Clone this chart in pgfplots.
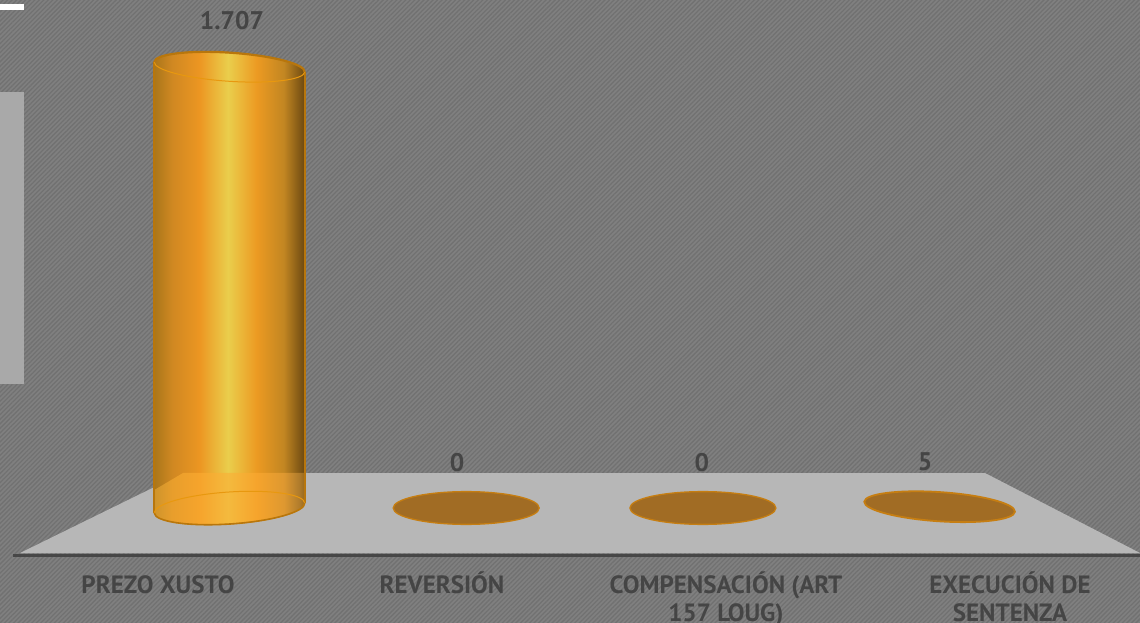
\documentclass[border=0pt]{standalone}
\usepackage{fontspec}
\setmainfont{PT Sans}
\usepackage{pgfplots}
\pgfplotsset{compat=1.18}
\usetikzlibrary{patterns.meta}

\definecolor{bgbase}{HTML}{808080}
\definecolor{bghatch}{HTML}{717171}
\definecolor{floorgray}{HTML}{B7B7B7}
\definecolor{baseink}{HTML}{474747}
\definecolor{sidegray}{HTML}{A9A9A9}
\definecolor{labelgray}{HTML}{454545}
\definecolor{rimdark}{HTML}{B8760C}
\definecolor{rimsoft}{HTML}{E8980F}
\definecolor{diskfill}{HTML}{A16C24}
\definecolor{diskrim}{HTML}{C67E12}

% Cylinder wall: the stops cover the shading's central band, which is the path's width
\pgfdeclarehorizontalshading{cylwall}{100bp}{
  color(0bp)=(rgb,255:red,170;green,118;blue,26);
  color(25bp)=(rgb,255:red,170;green,118;blue,26);
  color(31bp)=(rgb,255:red,208;green,136;blue,34);
  color(40bp)=(rgb,255:red,236;green,150;blue,34);
  color(49.5bp)=(rgb,255:red,234;green,206;blue,76);
  color(59bp)=(rgb,255:red,236;green,154;blue,34);
  color(68bp)=(rgb,255:red,194;green,134;blue,34);
  color(73bp)=(rgb,255:red,132;green,90;blue,22);
  color(75bp)=(rgb,255:red,106;green,72;blue,16);
  color(100bp)=(rgb,255:red,106;green,72;blue,16)}
% The part of the wall that stands in front of the floor
\pgfdeclarehorizontalshading{cyllow}{100bp}{
  color(0bp)=(rgb,255:red,206;green,148;blue,44);
  color(25bp)=(rgb,255:red,206;green,148;blue,44);
  color(31bp)=(rgb,255:red,232;green,158;blue,44);
  color(40bp)=(rgb,255:red,246;green,164;blue,44);
  color(49.5bp)=(rgb,255:red,244;green,186;blue,62);
  color(59bp)=(rgb,255:red,246;green,164;blue,44);
  color(68bp)=(rgb,255:red,222;green,152;blue,48);
  color(73bp)=(rgb,255:red,176;green,124;blue,44);
  color(75bp)=(rgb,255:red,150;green,104;blue,30);
  color(100bp)=(rgb,255:red,150;green,104;blue,30)}

\pgfdeclareplotmark{cyltop}{%
  \pgftransformrotate{-3.8}%
  \pgfpathellipse{\pgfpointorigin}{\pgfqpoint{75.4pt}{0pt}}{\pgfqpoint{0pt}{14.3pt}}%
  \pgfshadepath{cylwall}{0}%
  \pgfsetlinewidth{1pt}\pgfsetstrokecolor{rimsoft}%
  \pgfpathellipse{\pgfpointorigin}{\pgfqpoint{75.4pt}{0pt}}{\pgfqpoint{0pt}{14.3pt}}%
  \pgfusepathqstroke
  \pgfsetlinewidth{2.2pt}\pgfsetstrokecolor{rimdark}%
  \pgfpathmoveto{\pgfqpoint{-75.4pt}{0pt}}%
  \pgfpatharc{180}{0}{75.4pt and 14.3pt}%
  \pgfusepathqstroke}
\pgfdeclareplotmark{cylbase}{%
  \pgftransformrotate{3.8}%
  \pgfpathellipse{\pgfpointorigin}{\pgfqpoint{75.4pt}{0pt}}{\pgfqpoint{0pt}{16pt}}%
  \pgfshadepath{cyllow}{0}%
  \pgfsetlinewidth{1pt}\pgfsetstrokecolor{rimsoft}%
  \pgfpathellipse{\pgfpointorigin}{\pgfqpoint{75.4pt}{0pt}}{\pgfqpoint{0pt}{16pt}}%
  \pgfusepathqstroke
  \pgfsetlinewidth{1.6pt}\pgfsetstrokecolor{rimdark}%
  \pgfpathmoveto{\pgfqpoint{-75.4pt}{0pt}}%
  \pgfpatharc{180}{360}{75.4pt and 16pt}%
  \pgfusepathqstroke}
\pgfdeclareplotmark{flatdisk}{%
  \pgfsetlinewidth{1.3pt}\pgfsetfillcolor{diskfill}\pgfsetstrokecolor{diskrim}%
  \pgfpathellipse{\pgfpointorigin}{\pgfqpoint{73pt}{0pt}}{\pgfqpoint{0pt}{16.4pt}}%
  \pgfusepathqfillstroke}
\pgfdeclareplotmark{tiltdisk}{%
  \pgftransformrotate{-3.8}%
  \pgfsetlinewidth{1.8pt}\pgfsetfillcolor{diskfill}\pgfsetstrokecolor{diskrim}%
  \pgfpathellipse{\pgfpointorigin}{\pgfqpoint{75.5pt}{0pt}}{\pgfqpoint{0pt}{14.6pt}}%
  \pgfusepathqfillstroke}

\pgfplotsset{
  fullframe/.style={width=1140pt,height=623pt,scale only axis,hide axis,at={(0,0)},anchor=south west},
  pixelframe/.style={fullframe,xmin=0,xmax=1140,ymin=0,ymax=623,y dir=reverse},
}
\tikzset{
  catlabel/.style={font=\fontsize{25}{25}\selectfont\bfseries,text=labelgray,inner sep=0pt,anchor=base},
  vallabel/.style={font=\fontsize{25.5}{25.5}\selectfont\bfseries,text=labelgray,inner sep=0pt,anchor=base},
}

\begin{document}
\begin{tikzpicture}
\path[use as bounding box,clip] (0,0) rectangle (1140pt,623pt);

% Backdrop, floor and the two marks at the left edge
\begin{axis}[pixelframe]
  \addplot[draw=none,fill=bgbase] coordinates {(0,0) (1140,0) (1140,623) (0,623)} -- cycle;
  \addplot[draw=none,pattern={Lines[angle=45,distance=3.2pt,line width=1.3pt]},pattern color=bghatch]
    coordinates {(0,0) (1140,0) (1140,623) (0,623)} -- cycle;
  \addplot[draw=none,fill=floorgray] coordinates {(183,473) (985,473) (1140,553) (20,553)} -- cycle;
  \addplot[baseink,line width=3pt] coordinates {(13,555) (1140,555)};
  \addplot[draw=none,fill=white] coordinates {(0,4.5) (24,4.5) (24,10) (0,10)} -- cycle;
  \addplot[draw=none,fill=sidegray] coordinates {(0,92) (24,92) (24,384) (0,384)} -- cycle;
  \node[catlabel] at (axis cs:158,593) {PREZO XUSTO};
  \node[catlabel] at (axis cs:442,593) {REVERSIÓN};
  \node[catlabel] at (axis cs:726,593) {COMPENSACIÓN (ART};
  \node[catlabel] at (axis cs:726,621.5) {157 LOUG)};
  \node[catlabel] at (axis cs:1010,593) {EXECUCIÓN DE};
  \node[catlabel] at (axis cs:1010,621.5) {SENTENZA};
\end{axis}

% The four categories at 0, 1, 2, 3 with their values
\begin{axis}[fullframe,xmin=-0.9696,xmax=3.8466,ymin=-445.1,ymax=1966.3,clip=false]
  % Wall of the cylinder for 1707, with tilted ends
  \addplot[draw=none,shading=cylwall]
    coordinates {(-0.318,1726.4) (0.318,1687.6) (0.318,19.4) (-0.318,-19.4)} -- cycle;
  \addplot[only marks,mark=cyltop] coordinates {(0,1707)};
  % Lower part of the wall, in front of the floor
  \addplot[draw=none,shading=cyllow]
    coordinates {(-0.318,69.7) (-0.1965,135.5) (0.318,135.5) (0.318,19.4) (-0.318,-19.4)} -- cycle;
  \addplot[only marks,mark=cylbase] coordinates {(0,0)};
  \addplot[rimdark,line width=1.8pt] coordinates {(-0.318,1726.4) (-0.318,-19.4)};
  \addplot[rimdark,line width=1.8pt] coordinates {(0.318,1687.6) (0.318,19.4)};
  % Discs for the categories with almost no height
  \addplot[only marks,mark=flatdisk] coordinates {(1,0) (2,0)};
  \addplot[only marks,mark=tiltdisk] coordinates {(3,5)};
  % Value labels
  \node[vallabel,xshift=2.5pt,yshift=37pt] at (axis cs:0,1707) {1.707};
  \node[vallabel,xshift=-9pt,yshift=36.3pt] at (axis cs:1,0) {0};
  \node[vallabel,xshift=-1pt,yshift=36.3pt] at (axis cs:2,0) {0};
  \node[vallabel,xshift=-14.5pt,yshift=36.7pt] at (axis cs:3,5) {5};
\end{axis}
\end{tikzpicture}
\end{document}
